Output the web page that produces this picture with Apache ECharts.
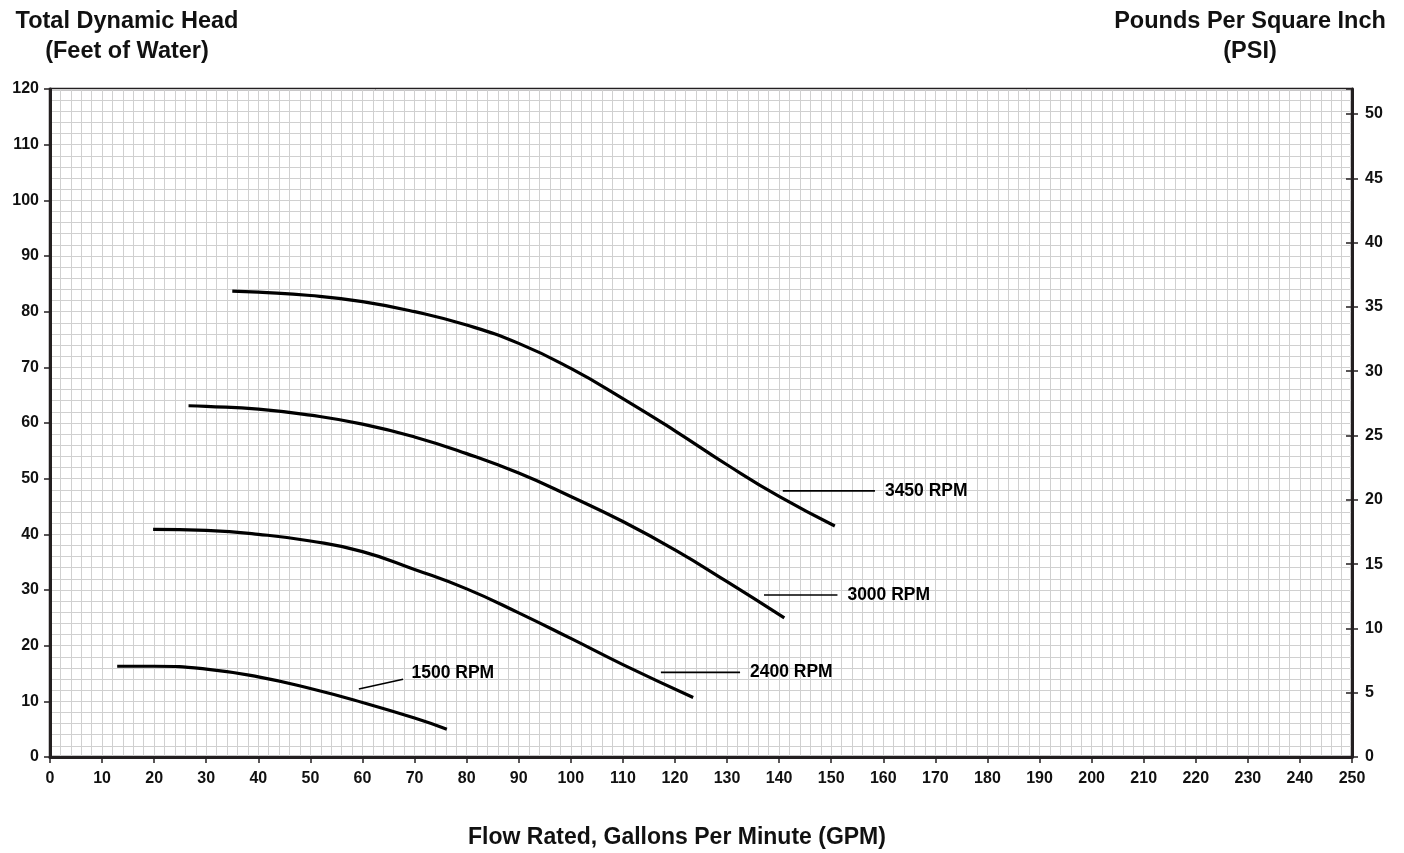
<!DOCTYPE html>
<html>
<head>
<meta charset="utf-8">
<script src="https://cdn.jsdelivr.net/npm/echarts@6/dist/echarts.min.js"></script>
<style>html,body{margin:0;padding:0;background:#fff}#c{width:1404px;height:853px}</style>
</head>
<body>
<div id="c"></div>
<script>
// Pump curves: [GPM, Feet of head]
const rpm3450 = [[35,83.7],[40,83.5],[50,82.9],[60,81.8],[70,80.0],[80,77.6],[90,74.3],[100,69.8],[110,64.4],[120,58.6],[130,52.5],[140,46.8],[150.7,41.5]];
const rpm3000 = [[26.6,63.1],[30,63.0],[40,62.5],[50,61.4],[60,59.8],[70,57.5],[80,54.5],[90,51.0],[100,46.8],[110,42.3],[120,37.2],[130,31.5],[141,25]];
const rpm2400 = [[19.8,40.9],[30,40.7],[40,40.0],[50,38.8],[60,36.9],[70,33.7],[80,30.2],[90,25.9],[100,21.3],[110,16.6],[123.5,10.7]];
const rpm1500 = [[12.9,16.3],[20,16.3],[30,15.8],[40,14.4],[50,12.3],[60,9.8],[70,7.0],[76.2,5.0]];

// Annotation leader lines and labels
const labelText = ['3450 RPM','3000 RPM','2400 RPM','1500 RPM'];
const leaderLines = [
  [[140.7,47.8],[158.4,47.8]],
  [[137.1,29.1],[151.2,29.1]],
  [[117.3,15.2],[132.5,15.2]],
  [[59.3,12.2],[67.8,13.96]]
];
const labelPos = [[160.3,47.8],[153.1,29.1],[134.4,15.2],[69.4,15.0]];

// Axis settings
const xTicksMax = 250, xInterval = 10;
const headMax = 120, headInterval = 10;
const psiPerFoot = 1/2.31;
const psiMax = headMax * psiPerFoot;
const psiInterval = 5;

const chart = echarts.init(document.getElementById('c'));
const FONT = '"Liberation Sans", Arial, sans-serif';
const gridColor = '#d0d0d0';
const axisColor = '#231f20';
const textColor = '#111';

const curveSeries = [rpm3450, rpm3000, rpm2400, rpm1500].map((d,i)=>({
  type:'line', name:labelText[i], data:d, smooth:0.5, showSymbol:false, symbol:'none',
  lineStyle:{color:'#000', width:3.2}, xAxisIndex:0, yAxisIndex:0, z:5
}));
const leaderSeries = leaderLines.map(d=>({
  type:'line', data:d, showSymbol:false, symbol:'none', smooth:false,
  lineStyle:{color:'#000', width:1.6}, xAxisIndex:0, yAxisIndex:0, z:5
}));
const labelSeries = {
  type:'scatter', data:labelPos.map((p,i)=>({value:p, name:labelText[i]})),
  symbolSize:0.1, itemStyle:{color:'#000', opacity:1},
  label:{show:true, position:'right', distance:0, formatter:p=>p.name,
    color:'#000', fontFamily:FONT, fontWeight:'bold', fontSize:17.5},
  xAxisIndex:0, yAxisIndex:0, z:6
};

chart.setOption({
  animation:false,
  backgroundColor:'#fff',
  title:[
    {text:'Total Dynamic Head\n(Feet of Water)', left:122, top:2, textAlign:'center',
      textStyle:{fontFamily:FONT, fontWeight:'bold', fontSize:23.5, color:textColor, lineHeight:30}},
    {text:'Pounds Per Square Inch\n(PSI)', left:1245, top:2, textAlign:'center',
      textStyle:{fontFamily:FONT, fontWeight:'bold', fontSize:23.5, color:textColor, lineHeight:30}},
    {text:'Flow Rated, Gallons Per Minute (GPM)', left:672, top:821, textAlign:'center',
      textStyle:{fontFamily:FONT, fontWeight:'bold', fontSize:23, color:textColor}}
  ],
  grid:{left:50, right:52, top:89, bottom:96, show:true, borderColor:axisColor, borderWidth:2.5, backgroundColor:'transparent'},
  xAxis:[{
    type:'value', min:0, max:xTicksMax, interval:xInterval,
    axisLine:{show:true, onZero:false, lineStyle:{color:axisColor, width:3}},
    axisTick:{show:true, length:6, lineStyle:{color:axisColor, width:1.5}},
    axisLabel:{margin:14, color:textColor, fontFamily:FONT, fontWeight:'bold', fontSize:16},
    splitLine:{show:true, lineStyle:{color:gridColor, width:1}},
    minorTick:{show:true, splitNumber:5, length:0},
    minorSplitLine:{show:true, lineStyle:{color:gridColor, width:1}}
  }],
  yAxis:[{
    type:'value', min:0, max:headMax, interval:headInterval, position:'left',
    axisLine:{show:true, lineStyle:{color:axisColor, width:3}},
    axisTick:{show:true, length:6, lineStyle:{color:axisColor, width:1.5}},
    axisLabel:{margin:11, color:textColor, fontFamily:FONT, fontWeight:'bold', fontSize:16},
    splitLine:{show:true, lineStyle:{color:gridColor, width:1}},
    minorTick:{show:true, splitNumber:5, length:0},
    minorSplitLine:{show:true, lineStyle:{color:gridColor, width:1}}
  },{
    type:'value', min:0, max:psiMax, interval:psiInterval, position:'right',
    axisLine:{show:true, lineStyle:{color:axisColor, width:3}},
    axisTick:{show:true, length:6, lineStyle:{color:axisColor, width:1.5}},
    axisLabel:{margin:13, color:textColor, fontFamily:FONT, fontWeight:'bold', fontSize:16, showMaxLabel:false},
    splitLine:{show:false}
  },{
    type:'value', min:0, max:psiMax, interval:psiInterval, position:'right',
    axisLine:{show:false},
    axisTick:{show:true, inside:true, length:6, lineStyle:{color:axisColor, width:1.5}},
    axisLabel:{show:false},
    splitLine:{show:false}
  }],
  series:[...curveSeries, ...leaderSeries, labelSeries]
});
</script>
</body>
</html>
